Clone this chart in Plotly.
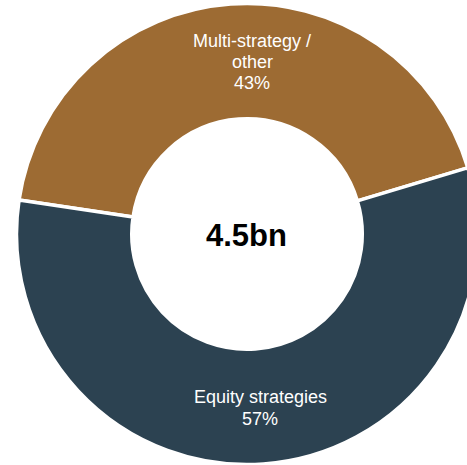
import plotly.graph_objects as go

labels = ["Multi-strategy / other", "Equity strategies"]
label_lines = [["Multi-strategy /", "other", "43%"], ["Equity strategies", "57%"]]
values = [43, 57]
colors = ["#9D6B33", "#2C4251"]
center_text = "4.5bn"

W, H = 480, 465
dom_x = [0.0344, 0.9948]
dom_y = [0.001, 0.9925]

fig = go.Figure(
    go.Pie(
        labels=labels,
        values=values,
        hole=0.5,
        sort=False,
        direction="clockwise",
        rotation=-81.5,
        marker=dict(colors=colors, line=dict(color="white", width=3.5)),
        textinfo="none",
        domain=dict(x=dom_x, y=dom_y),
        showlegend=False,
        hoverinfo="label+percent",
    )
)

font = "Liberation Sans, Arial, sans-serif"
# label blocks: (center x px, first line cap-center y px, line step px)
blocks = [(252, 40.5, 21), (260, 396.5, 22)]
for lines, (bx, by, step) in zip(label_lines, blocks):
    for i, line in enumerate(lines):
        fig.add_annotation(
            text=line, x=bx / W, y=1 - (by + i * step) / H,
            xref="paper", yref="paper", showarrow=False,
            xanchor="center", yanchor="middle",
            font=dict(family=font, size=18, color="white"),
        )

fig.add_annotation(
    text="<b>" + center_text + "</b>",
    x=247 / W, y=1 - 235.5 / H,
    xref="paper", yref="paper", showarrow=False,
    xanchor="center", yanchor="middle",
    font=dict(family=font, size=31, color="black"),
)
fig.update_layout(
    width=W, height=H,
    margin=dict(l=0, r=0, t=0, b=0),
    paper_bgcolor="white",
    plot_bgcolor="white",
)
fig.write_html(
    "out.html",
    config={"displayModeBar": False},
    post_script="document.body.style.margin='0px';",
)
